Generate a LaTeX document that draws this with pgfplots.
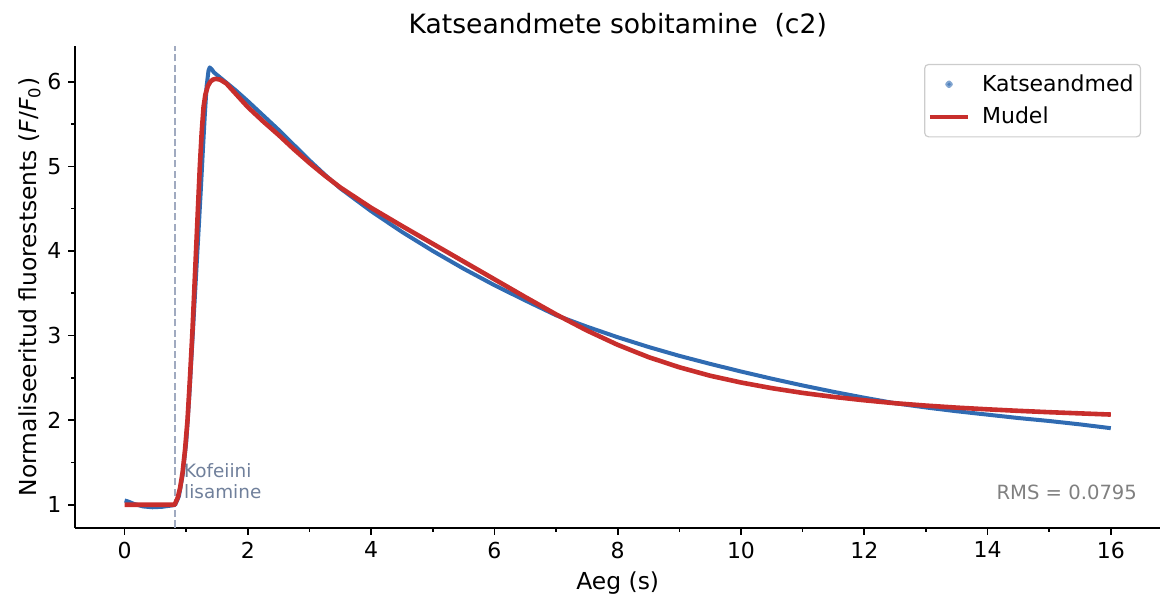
\documentclass[border=0pt]{standalone}
\usepackage{fontspec}
\setmainfont{DejaVu Sans}
\usepackage{pgfplots}
\pgfplotsset{compat=1.18}
\definecolor{dblue}{RGB}{48,107,178}
\definecolor{mred}{RGB}{200,46,44}
\definecolor{vline}{RGB}{160,170,192}
\definecolor{annot}{RGB}{112,128,155}
\definecolor{lgframe}{RGB}{204,204,204}
\begin{document}
\begin{tikzpicture}
\begin{axis}[
  scale only axis, width=542.5pt, height=241pt,
  xmin=-0.8, xmax=16.8, ymin=0.728, ymax=6.425,
  axis lines=left, axis line style={-, line width=0.9pt},
  tick align=outside, major tick length=3.5pt, minor tick length=2pt,
  every tick/.style={black, line width=0.8pt},
  xtick={0,2,...,16}, ytick={1,2,3,4,5,6},
  minor x tick num=1, minor y tick num=1,
  /pgf/number format/assume math mode=true,
  ticklabel style={font=\fontsize{11}{13}\selectfont},
  xlabel={Aeg (s)},
  ylabel={Normaliseeritud fluorestsents (\textit{F}/\textit{F}\textsubscript{0})},
  ylabel shift=-3.5pt,
  label style={font=\fontsize{11.7}{14}\selectfont},
  title={Katseandmete sobitamine\ \ (c2)},
  title style={font=\fontsize{13.3}{16}\selectfont, yshift=-5pt},
  legend style={at={(1,1)}, anchor=north east, xshift=-9.5pt, yshift=-9pt,
    draw=lgframe, line width=0.6pt, rounded corners=2pt,
    font=\fontsize{11}{13}\selectfont, inner xsep=1.5pt, inner ysep=3pt,
    row sep=2.5pt},
  legend cell align=left,
]
\addplot[vline, line width=0.75pt, dash pattern=on 3.7pt off 1.6pt, forget plot]
  coordinates {(0.82,0.728) (0.82,6.425)};
\addplot[dblue, line width=2pt, line join=round,
  legend image code/.code={\fill[dblue, opacity=0.6] (0.335cm,0cm) circle (0.9pt);
    \path[draw=none, fill=none] (0cm,0cm) -- (0.67cm+5pt,0cm);}]
  coordinates {
(0,1.05) (0.05,1.04) (0.15,1.01) (0.3,0.98) (0.45,0.97) (0.6,0.975) (0.75,0.99)
(0.82,1.0) (0.88,1.1) (0.94,1.35) (1.0,1.75) (1.05,2.3) (1.1,2.95) (1.15,3.6)
(1.2,4.25) (1.24,4.78) (1.27,5.2) (1.3,5.6) (1.33,5.95) (1.36,6.13) (1.38,6.17)
(1.41,6.15) (1.45,6.11) (1.5,6.08) (1.6,6.02) (1.8,5.9) (2.0,5.77) (2.25,5.6)
(2.5,5.43) (2.75,5.25) (3.0,5.07) (3.25,4.9) (3.5,4.74) (4.0,4.47) (4.5,4.225)
(5.0,4.0) (5.5,3.79) (6.0,3.595) (6.5,3.415) (7.0,3.24) (7.5,3.105) (8.0,2.98)
(8.5,2.865) (9.0,2.76) (9.5,2.665) (10.0,2.575) (10.5,2.49) (11.0,2.41)
(11.5,2.335) (12.0,2.265) (12.5,2.20) (13.0,2.15) (13.5,2.105) (14.0,2.065)
(14.5,2.025) (15.0,1.99) (15.5,1.95) (16.0,1.905)
  };
\addlegendentry{Katseandmed}
\addplot[mred, line width=2.3pt, line join=round,
  legend image code/.code={\draw[mred, line width=2.3pt] (0cm,0cm) -- (0.67cm,0cm);
    \path[draw=none, fill=none] (0cm,0cm) -- (0.67cm+5pt,0cm);}]
  coordinates {
(0,1.0) (0.81,1.0) (0.86,1.08) (0.9,1.2) (0.94,1.38) (0.98,1.65) (1.02,2.0)
(1.06,2.5) (1.1,3.05) (1.14,3.7) (1.18,4.35) (1.22,5.0) (1.25,5.4) (1.28,5.7)
(1.31,5.85) (1.35,5.95) (1.39,6.0) (1.43,6.025) (1.48,6.035) (1.55,6.025)
(1.65,5.98) (1.8,5.86) (2.0,5.7) (2.25,5.53) (2.5,5.37) (2.75,5.2) (3.0,5.04)
(3.25,4.89) (3.5,4.75) (4.0,4.51) (4.5,4.295) (5.0,4.085) (5.5,3.875)
(6.0,3.665) (6.5,3.455) (7.0,3.25) (7.5,3.06) (8.0,2.89) (8.5,2.745)
(9.0,2.625) (9.5,2.525) (10.0,2.445) (10.5,2.378) (11.0,2.322) (11.5,2.275)
(12.0,2.235) (12.5,2.20) (13.0,2.172) (13.5,2.148) (14.0,2.128) (14.5,2.11)
(15.0,2.094) (15.5,2.08) (16.0,2.066)
  };
\addlegendentry{Mudel}
\node[anchor=west, align=left, inner sep=0pt, text=annot,
  font=\fontsize{9.2}{10.5}\selectfont] at (axis cs:0.96,1.278) {Kofeiini\\lisamine};
\node[anchor=east, inner sep=0pt, text=gray,
  font=\fontsize{9.8}{12}\selectfont] at (rel axis cs:0.979,0.073) {RMS = 0.0795};
\end{axis}
\path[draw=none] ([xshift=-6pt]current bounding box.south west) -- ([yshift=3.2pt]current bounding box.north east);
\end{tikzpicture}
\end{document}
